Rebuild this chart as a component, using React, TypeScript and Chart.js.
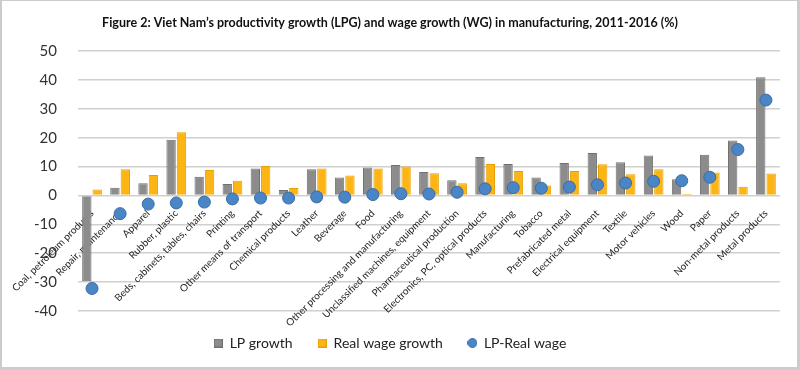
import { useEffect, useRef } from 'react';
import { Chart, registerables } from 'chart.js';

Chart.register(...registerables);

const categories = [
  'Coal, petroleum products',
  'Repair, maintenance',
  'Apparel',
  'Rubber, plastic',
  'Beds, cabinets, tables, chairs',
  'Printing',
  'Other means of transport',
  'Chemical products',
  'Leather',
  'Beverage',
  'Food',
  'Other processing and manufacturing',
  'Unclassified machines, equipment',
  'Pharmaceutical production',
  'Electronics, PC, optical products',
  'Manufacturing',
  'Tobacco',
  'Prefabricated metal',
  'Electrical equipment',
  'Textile',
  'Motor vehicles',
  'Wood',
  'Paper',
  'Non-metal products',
  'Metal products',
];

const lpGrowth = [
  -29.7, 2.7, 4.2, 19.3, 6.5, 4.0, 9.3, 1.9, 9.1, 6.2, 9.7, 10.5, 8.1, 5.3, 13.3,
  10.9, 6.2, 11.2, 14.7, 11.5, 13.8, 5.6, 14.1, 19.0, 40.9,
];

const realWageGrowth = [
  2.1, 9.1, 7.1, 21.9, 8.8, 5.1, 10.2, 2.6, 9.3, 6.9, 9.3, 10.0, 7.7, 4.2, 10.9,
  8.5, 3.4, 8.5, 10.8, 7.3, 9.1, 0.5, 7.9, 3.0, 7.6,
];

const lpMinusRealWage = [
  -32.2, -6.3, -3.0, -2.6, -2.3, -1.2, -0.9, -0.9, -0.5, -0.6, 0.3, 0.6, 0.5, 1.1, 2.3,
  2.7, 2.5, 2.9, 3.7, 4.3, 4.9, 5.1, 6.3, 15.9, 33.0,
];

const yMin = -40;
const yMax = 50;
const yStep = 10;

const titleText =
  'Figure 2: Viet Nam\u2019s productivity growth (LPG) and wage growth (WG) in manufacturing, 2011-2016 (%)';

const FONT = 'Lato, "Open Sans", sans-serif';

const GRAY = '#8c8c8c';
const GRAY_BORDER = '#707070';
const GOLD = '#fdb515';
const GOLD_BORDER = '#e6a100';
const BLUE = '#4a85c6';
const BLUE_BORDER = '#3a6ca3';

function makeSwatch(kind: 'rect' | 'circle', fill: string, stroke: string) {
  const c = document.createElement('canvas');
  const s = kind === 'rect' ? 9 : 10;
  c.width = s;
  c.height = s;
  const ctx = c.getContext('2d')!;
  ctx.fillStyle = fill;
  ctx.strokeStyle = stroke;
  ctx.lineWidth = 1;
  if (kind === 'rect') {
    ctx.fillRect(0, 0, s, s);
    ctx.strokeRect(0.5, 0.5, s - 1, s - 1);
  } else {
    ctx.beginPath();
    ctx.arc(s / 2, s / 2, s / 2 - 0.5, 0, Math.PI * 2);
    ctx.fill();
    ctx.stroke();
  }
  return c;
}

export default function App() {
  const canvasRef = useRef<HTMLCanvasElement | null>(null);

  useEffect(() => {
    const canvas = canvasRef.current;
    if (!canvas) return;
    const swatches = [
      makeSwatch('rect', GRAY, GRAY_BORDER),
      makeSwatch('rect', GOLD, GOLD_BORDER),
      makeSwatch('circle', BLUE, BLUE_BORDER),
    ];
    const chart = new Chart(canvas, {
      type: 'bar',
      data: {
        labels: categories,
        datasets: [
          {
            type: 'bar',
            label: 'LP growth',
            data: lpGrowth,
            backgroundColor: GRAY,
            borderColor: GRAY_BORDER,
            borderWidth: 1,
            order: 2,
            categoryPercentage: 0.74,
            barPercentage: 0.9,
          } as any,
          {
            type: 'bar',
            label: 'Real wage growth',
            data: realWageGrowth,
            backgroundColor: GOLD,
            borderColor: GOLD_BORDER,
            borderWidth: 1,
            order: 2,
            categoryPercentage: 0.74,
            barPercentage: 0.9,
          } as any,
          {
            type: 'line',
            label: 'LP-Real wage',
            data: lpMinusRealWage,
            showLine: false,
            pointStyle: 'circle',
            pointRadius: 6,
            pointHoverRadius: 6,
            pointBackgroundColor: BLUE,
            pointBorderColor: BLUE_BORDER,
            pointBorderWidth: 1,
            backgroundColor: BLUE,
            borderColor: BLUE_BORDER,
            order: 0,
          } as any,
        ],
      },
      options: {
        animation: false,
        responsive: false,
        maintainAspectRatio: false,
        layout: { padding: { left: 0, right: 20, top: 0, bottom: 10 } },
        scales: {
          x: {
            position: { y: 0 } as any,
            grid: { display: false },
            border: { display: false },
            ticks: {
              autoSkip: false,
              maxRotation: 45,
              minRotation: 45,
              padding: 4,
              color: '#262626',
              font: { family: FONT, size: 10 },
            },
          },
          y: {
            min: yMin,
            max: yMax,
            afterFit: (scale: any) => {
              scale.width = 78;
            },
            grid: { color: '#d0d0d0', lineWidth: 1.5, drawTicks: false },
            border: { display: false },
            ticks: {
              stepSize: yStep,
              padding: 21,
              color: '#333333',
              font: { family: FONT, size: 15 },
            },
          },
        },
        plugins: {
          title: {
            display: true,
            text: titleText,
            color: '#111111',
            font: { family: FONT, size: 12.5, weight: 'bold' },
            padding: { top: 15, bottom: 21 },
          },
          legend: {
            position: 'bottom',
            labels: {
              usePointStyle: true,
              boxWidth: 9,
              boxHeight: 9,
              padding: 25,
              color: '#222222',
              font: { family: FONT, size: 14 },
              generateLabels: (ch: any) => {
                const items = Chart.defaults.plugins.legend.labels.generateLabels(ch);
                items.sort((a: any, b: any) => a.datasetIndex - b.datasetIndex);
                items.forEach((it: any) => {
                  it.pointStyle = swatches[it.datasetIndex];
                });
                return items;
              },
            },
          },
          tooltip: { enabled: false },
        },
      },
    });
    return () => chart.destroy();
  }, []);

  return (
    <div style={{ position: 'fixed', left: 0, top: 0, width: 800, height: 370, background: '#ffffff' }}>
      <canvas ref={canvasRef} width={800} height={370} style={{ width: 800, height: 370, display: 'block' }} />
      <div
        style={{
          position: 'absolute',
          left: 0,
          top: 0,
          width: 800,
          height: 370,
          boxSizing: 'border-box',
          borderStyle: 'solid',
          borderColor: '#cccccc',
          borderWidth: '1px 3px 3px 2px',
          pointerEvents: 'none',
        }}
      />
    </div>
  );
}
